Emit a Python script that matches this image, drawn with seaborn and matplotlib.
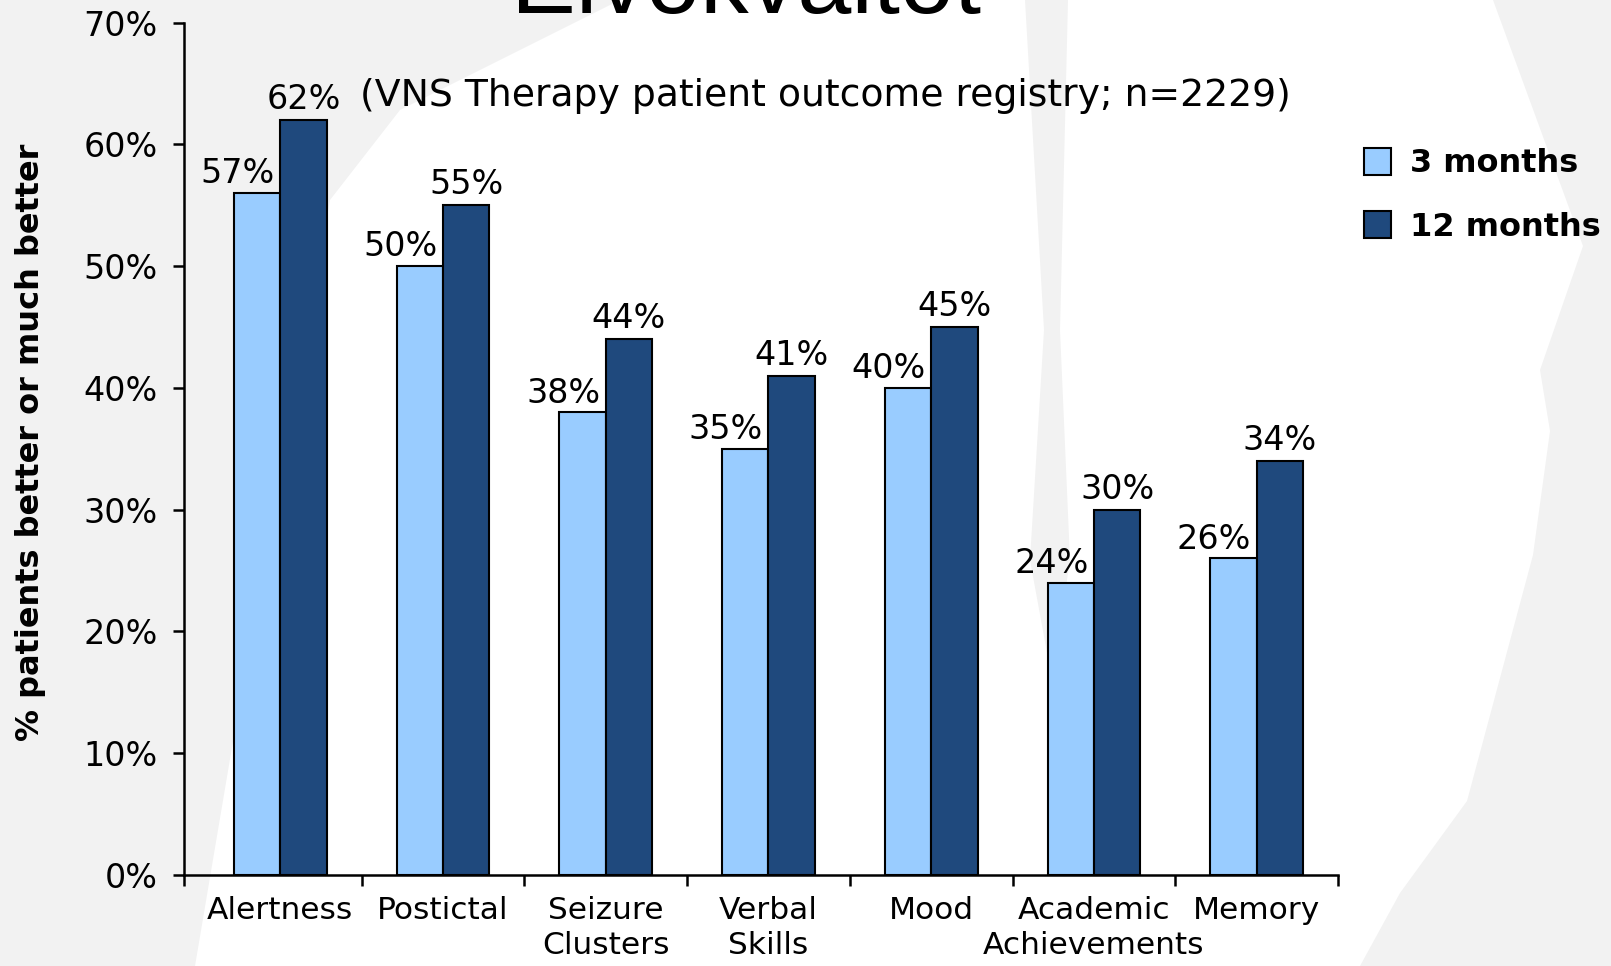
import matplotlib
matplotlib.use("Agg")
import matplotlib.pyplot as plt
from matplotlib.patches import Polygon
import seaborn as sns
import pandas as pd

# values
categories = ["Alertness", "Postictal", "Seizure\nClusters", "Verbal\nSkills",
              "Mood", "Academic\nAchievements", "Memory"]
three_months = [56, 50, 38, 35, 40, 24, 26]
twelve_months = [62, 55, 44, 41, 45, 30, 34]
# labels as printed on the slide (first one disagrees with its bar)
three_labels = ["57%", "50%", "38%", "35%", "40%", "24%", "26%"]
twelve_labels = ["62%", "55%", "44%", "41%", "45%", "30%", "34%"]
series = ["3 months", "12 months"]
yticks = [0, 10, 20, 30, 40, 50, 60, 70]

# rough outline of the pale silhouette behind the slide (pixels from top-left)
silhouette = [(620, 0), (1493, 0), (1583, 246), (1540, 370), (1550, 431),
              (1533, 555), (1500, 678), (1467, 801), (1400, 893), (1360, 966),
              (195, 966), (240, 700), (330, 200), (400, 110)]
stripe = [(1025, 0), (1068, 0), (1060, 330), (1070, 560), (1052, 680),
          (1030, 560), (1044, 330)]

df = pd.DataFrame({
    "category": categories * 2,
    "value": three_months + twelve_months,
    "period": [series[0]] * len(categories) + [series[1]] * len(categories),
})

sns.set_theme(style="white")
plt.rcParams["font.family"] = ["DejaVu Sans"]
plt.rcParams.update({"text.color": "black", "axes.labelcolor": "black",
                     "xtick.color": "black", "ytick.color": "black"})
bg = "#f2f2f2"
W, H = 1611, 966

fig = plt.figure(figsize=(16.11, 9.66), dpi=100, facecolor=bg)
for shape, col in [(silhouette, "white"), (stripe, bg)]:
    fig.patches.append(Polygon([(x / W, 1 - y / H) for x, y in shape],
                               closed=True, transform=fig.transFigure,
                               facecolor=col, edgecolor="none", zorder=-10))

ax = fig.add_axes([184 / W, 91 / H, 1154 / W, (875 - 22.6) / H])
ax.set_facecolor("none")

sns.barplot(data=df, x="category", y="value", hue="period", hue_order=series,
            palette=["#99ccff", "#1f497d"], width=0.57, gap=0,
            edgecolor="black", linewidth=1.5, saturation=1, ax=ax)

fs = 24
ax.set_xlim(-0.592, 6.5)
ax.set_ylim(0, 70)
ax.set_yticks(yticks)
ax.set_yticklabels([f"{t}%" for t in yticks], fontsize=fs)
ax.set_xticks(range(len(categories)))
ax.set_xticklabels(categories, fontsize=22.5, linespacing=1.25)
ax.set_xticks([-0.592] + [i + 0.5 for i in range(len(categories))], minor=True)
ax.tick_params(axis="x", which="major", length=0, pad=15)
ax.tick_params(axis="x", which="minor", length=8, width=1.8, direction="out",
               bottom=True)
ax.tick_params(axis="y", length=8, width=1.8, direction="out", pad=11,
               left=True)
ax.set_xlabel("")
ax.set_ylabel("")
for side in ["top", "right"]:
    ax.spines[side].set_visible(False)
for side in ["left", "bottom"]:
    ax.spines[side].set_linewidth(1.8)
    ax.spines[side].set_color("black")

# bar labels: 3-month labels sit a little to the left
for i in range(len(categories)):
    ax.annotate(three_labels[i], (i - 0.1425, three_months[i]),
                xytext=(-14, 7), textcoords="offset points",
                ha="center", va="baseline", fontsize=fs)
    ax.annotate(twelve_labels[i], (i + 0.1425, twelve_months[i]),
                xytext=(0, 8), textcoords="offset points",
                ha="center", va="baseline", fontsize=fs)

handles, labels = ax.get_legend_handles_labels()
ax.get_legend().remove()
fig.legend(handles, labels, loc="upper left",
           bbox_to_anchor=(1364 / W, 1 - 148 / H), frameon=False,
           prop={"weight": "bold", "size": 23}, handlelength=0.85,
           handleheight=0.9, handletextpad=0.6, labelspacing=1.0,
           borderpad=0, borderaxespad=0)

fig.text(360 / W, 1 - 96 / H,
         "(VNS Therapy patient outcome registry; n=2229)",
         fontsize=27.2, ha="left", va="center")
fig.text(31 / W, 1 - 442 / H, "% patients better or much better",
         rotation=90, fontsize=23, fontweight="bold", ha="center", va="center")
fig.text(511 / W, 1 - 13 / H, "Elvokvaltot", fontsize=70,
         family=["Liberation Sans", "DejaVu Sans"], ha="left", va="baseline")

fig.savefig("out.png", dpi=100, facecolor=bg)
